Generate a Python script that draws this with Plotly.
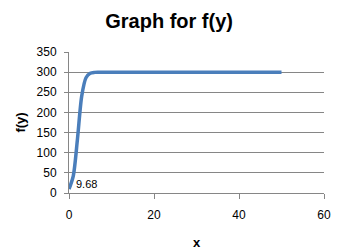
import plotly.graph_objects as go

x_vals = [0, 1, 2, 3, 4, 5, 6, 7, 8, 9, 10, 15, 20, 25, 30, 35, 40, 45, 50]
f_vals = [9.68, 42, 135, 241, 286, 297, 299.4, 299.8, 300, 300, 300, 300, 300, 300, 300, 300, 300, 300, 300]
x_ticks = [0, 20, 40, 60]
y_ticks = [0, 50, 100, 150, 200, 250, 300, 350]

grid = "#868686"
font = "Liberation Sans, Arial, sans-serif"

fig = go.Figure()
fig.add_trace(go.Scatter(
    x=x_vals, y=f_vals, mode="lines",
    line=dict(color="#4A7EBB", width=3.5, shape="spline", smoothing=0.8),
    hoverinfo="skip", showlegend=False,
))
fig.add_annotation(
    x=x_vals[0], y=f_vals[0], text=f"{f_vals[0]:.2f}", showarrow=False,
    xanchor="left", yanchor="middle", xshift=5, yshift=5,
    font=dict(family=font, size=11, color="#000000"),
)
fig.update_layout(
    width=343, height=250,
    margin=dict(l=69, r=19, t=52, b=57),
    paper_bgcolor="white", plot_bgcolor="white",
    title=dict(text="<b>Graph for f(y)</b>", x=0.493, xanchor="center",
               y=0.915, yanchor="middle",
               font=dict(family=font, size=20, color="#000000")),
    xaxis=dict(range=[0, 60], tickvals=x_ticks, showgrid=False, automargin=False,
               showline=True, linecolor=grid, linewidth=1,
               ticks="outside", ticklen=5, tickcolor=grid,
               ticklabelstandoff=6, zeroline=False,
               tickfont=dict(family=font, size=12, color="#000000"),
               title=dict(text="<b>x</b>", standoff=22,
                          font=dict(family=font, size=13, color="#000000"))),
    yaxis=dict(range=[0, 350], tickvals=y_ticks, showgrid=True, gridcolor=grid,
               gridwidth=1, showline=True, linecolor=grid, linewidth=1, automargin=False,
               ticks="outside", ticklen=4, tickcolor=grid,
               ticklabelstandoff=5, zeroline=False,
               tickfont=dict(family=font, size=12, color="#000000"),
               title=dict(text="<b>f(y)</b>", standoff=8,
                          font=dict(family=font, size=13, color="#000000"))),
)
fig.write_html("out.html")
